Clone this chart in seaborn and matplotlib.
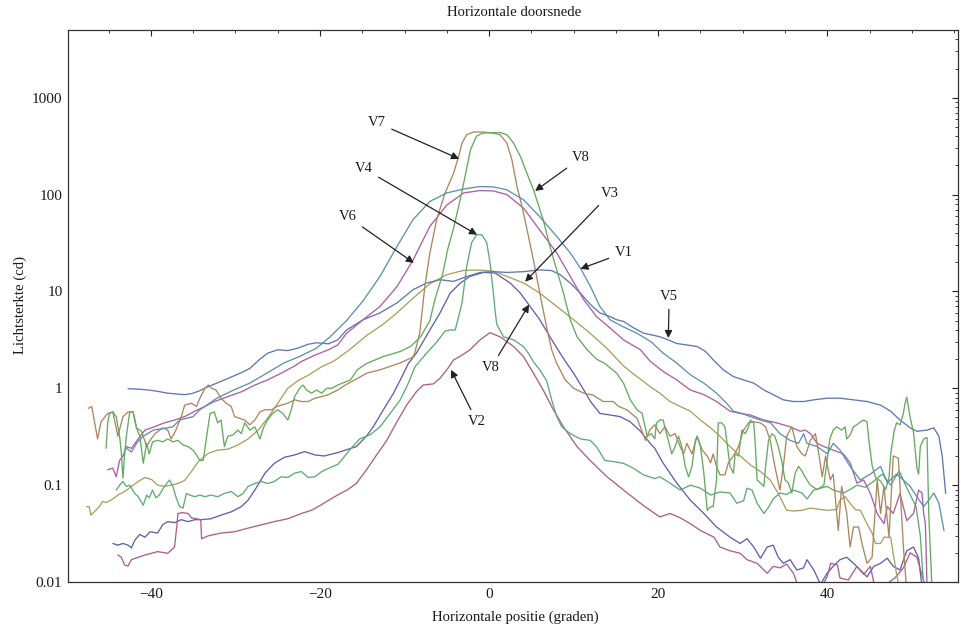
import matplotlib
matplotlib.use("Agg")
import matplotlib.pyplot as plt
import numpy as np
import pandas as pd
import seaborn as sns
from matplotlib.ticker import FixedLocator, NullFormatter

# ---------------- data ----------------
# V1 (teal)
v1_x = [-42.9, -42.3, -41.7, -40.9, -39.7, -38.1, -37.4, -36.6, -35.0, -34.2, -32.2, -30.2, -28.3, -26.3,
        -24.3, -22.4, -20.4, -18.8, -16.85, -14.9, -12.9, -10.9, -9.0, -7.0, -5.0, -3.0, -1.1, 0.5, 2.1,
        4.1, 6.0, 8.0, 9.6, 10.8, 12.0, 13.1, 14.3, 15.9, 17.5, 19.2, 20.6, 22.2, 23.8, 25.4, 26.9, 28.1,
        28.9, 29.9, 30.9, 32.1, 33.3, 34.4, 35.6, 36.6, 37.2, 37.6, 38.8, 40.0, 40.7, 41.5, 42.7, 43.9,
        45.1, 46.3, 47.1, 48.2, 49.0, 49.8, 50.6, 51.4, 52.0, 52.6, 53.2, 53.8]
v1_y = [0.24, 0.22, 0.27, 0.32, 0.37, 0.39, 0.40, 0.47, 0.51, 0.60, 0.79, 0.96, 1.13, 1.43,
        1.82, 2.13, 2.6, 3.4, 5.0, 8.0, 14.3, 29, 55, 85, 104, 114, 121, 120, 112,
        88, 59, 37, 25, 17.4, 11.2, 7.0, 5.1, 4.3, 3.7, 3.0, 2.3, 1.82, 1.38, 1.13, 0.89, 0.70,
        0.58, 0.55, 0.51, 0.47, 0.44, 0.34, 0.29, 0.27, 0.34, 0.27, 0.25, 0.21, 0.27, 0.23, 0.156, 0.113,
        0.13, 0.156, 0.106, 0.13, 0.113, 0.097, 0.076, 0.06, 0.07, 0.083, 0.065, 0.034]

# V2 (red-magenta)
v2_x = [-43.9, -43.5, -43.1, -42.7, -42.3, -41.5, -40.7, -39.9, -39.2, -38.0, -37.2, -36.9, -36.8, -36.2,
        -35.6, -35.2, -34.6, -34.1, -34.0, -33.2, -31.7, -30.1, -28.5, -26.9, -25.4, -23.8, -22.2, -21.0,
        -19.8, -18.6, -17.6, -16.8, -15.7, -14.5, -13.3, -12.1, -10.9, -9.75, -8.6, -7.8, -6.6, -5.8, -5.0,
        -4.2, -3.2, -2.25, -1.07, 0.1, 1.3, 2.9, 4.06, 5.25, 6.4, 7.6, 8.8, 10.4, 11.95, 13.9, 15.9, 17.9,
        19.05, 20.2, 21.4, 22.6, 23.8, 25.0, 26.6, 27.3, 28.5, 29.7, 30.5, 31.7, 32.9, 33.6, 34.4, 35.2,
        36.0, 36.4, 37.5, 38.5, 39.5, 40.0, 40.4, 41.2, 41.5, 42.5, 43.5, 44.3, 45.1, 45.6, 47.0, 48.0,
        49.0, 49.8, 50.6, 51.4, 51.8]
v2_y = [0.019, 0.018, 0.015, 0.0146, 0.017, 0.018, 0.019, 0.0198, 0.0206, 0.0198, 0.023, 0.040, 0.051, 0.052,
        0.051, 0.046, 0.045, 0.044, 0.028, 0.030, 0.032, 0.033, 0.036, 0.039, 0.042, 0.045, 0.051, 0.055,
        0.063, 0.073, 0.082, 0.089, 0.104, 0.144, 0.205, 0.29, 0.45, 0.67, 0.92, 1.08, 1.11, 1.27, 1.55,
        1.96, 2.2, 2.5, 3.16, 3.75, 3.4, 2.7, 2.13, 1.43, 0.96, 0.60, 0.40, 0.25, 0.18, 0.123, 0.089, 0.065,
        0.055, 0.047, 0.051, 0.046, 0.040, 0.034, 0.029, 0.023, 0.021, 0.0198, 0.017, 0.0156, 0.0123, 0.0145, 0.014, 0.0153,
        0.0123, 0.0098, 0.009, 0.0092, 0.0095, 0.0114, 0.0156, 0.015, 0.011, 0.0105, 0.0145, 0.012, 0.0145, 0.009, 0.0095, 0.011,
        0.014, 0.020, 0.018, 0.0103, 0.008]

# V3 (olive)
v3_x = [-47.6, -47.3, -47.1, -46.7, -46.1, -45.7, -45.3, -44.7, -43.9, -43.1, -42.3, -41.5, -40.7, -39.9,
        -39.2, -38.4, -37.6, -36.8, -36.0, -35.2, -34.4, -33.2, -32.1, -30.9, -29.7, -28.5, -27.3, -26.2,
        -25.4, -24.6, -23.8, -22.6, -21.4, -19.8, -18.4, -16.5, -14.5, -12.5, -10.9, -9.0, -7.0, -5.0, -3.0,
        -1.0, 0.5, 2.1, 4.1, 6.0, 8.0, 10.0, 11.95, 13.9, 14.9, 15.9, 17.1, 18.3, 19.05, 20.2, 21.4, 22.6,
        23.8, 25.0, 26.2, 27.3, 28.5, 29.7, 30.9, 32.1, 33.25, 34.2, 35.2, 36.0, 37.0, 38.0, 39.2, 40.0,
        41.1, 41.5, 42.1, 42.7, 43.3, 43.9, 44.7, 45.3, 45.7, 46.3, 46.7, 47.5, 47.8, 48.2, 48.6]
v3_y = [0.06, 0.06, 0.049, 0.053, 0.06, 0.068, 0.066, 0.070, 0.079, 0.086, 0.097, 0.109, 0.12, 0.114,
        0.10, 0.097, 0.10, 0.104, 0.112, 0.138, 0.175, 0.213, 0.23, 0.235, 0.26, 0.30, 0.37, 0.49,
        0.62, 0.79, 1.0, 1.2, 1.36, 1.67, 1.9, 2.5, 3.5, 4.6, 6.0, 8.5, 12.0, 14.9, 16.5,
        16.6, 16.2, 14.3, 12.2, 9.6, 7.0, 5.1, 3.7, 2.6, 2.1, 1.7, 1.4, 1.17, 1.04, 0.89, 0.73, 0.65,
        0.58, 0.47, 0.39, 0.32, 0.25, 0.20, 0.162, 0.138, 0.113, 0.082, 0.055, 0.054, 0.055, 0.058, 0.056, 0.055,
        0.056, 0.070, 0.076, 0.065, 0.056, 0.055, 0.040, 0.032, 0.025, 0.025, 0.029, 0.029, 0.0196, 0.012, 0.008]

# V4 (green, narrow spike)
v4_x = [-44.1, -43.7, -43.3, -42.9, -42.5, -41.9, -41.5, -40.9, -40.5, -40.2, -39.8, -39.4, -39.0, -38.4,
        -37.8, -37.4, -37.0, -36.6, -36.2, -35.8, -35.4, -34.8, -34.2, -33.6, -32.9, -32.1, -31.3, -30.5,
        -29.7, -29.1, -28.5, -27.7, -26.9, -26.2, -25.4, -24.6, -23.8, -23.0, -22.2, -21.4, -20.6, -19.8,
        -19.0, -17.9, -17.6, -16.5, -15.3, -14.1, -12.9, -11.7, -10.5, -9.55, -8.76, -7.4, -6.2, -5.2, -4.6,
        -4.0, -3.2, -2.65, -2.06, -1.46, -0.87, -0.28, 0.12, 0.51, 0.7, 0.9, 1.7, 2.9, 4.06, 4.65, 5.3, 6.0,
        6.8, 7.4, 8.0, 8.6, 9.6, 10.8, 11.95, 12.7, 13.7, 14.7, 15.9, 17.1, 18.3, 19.6, 20.2, 21.4, 22.6,
        23.8, 25.0, 26.2, 27.3, 28.5, 29.3, 30.1, 30.5, 31.1, 31.7, 32.5, 33.05, 33.6, 34.4, 35.2, 36.0,
        37.0, 37.6, 38.4, 39.2, 40.0, 40.7, 41.9, 42.7, 43.5, 44.5, 45.5, 46.5, 47.5, 48.5, 49.5, 50.5,
        51.0, 51.3, 51.5]
v4_y = [0.089, 0.10, 0.109, 0.097, 0.10, 0.082, 0.076, 0.062, 0.079, 0.074, 0.089, 0.074, 0.079, 0.097,
        0.113, 0.097, 0.074, 0.06, 0.058, 0.082, 0.079, 0.076, 0.079, 0.076, 0.079, 0.076, 0.082, 0.086,
        0.076, 0.082, 0.097, 0.104, 0.109, 0.104, 0.109, 0.122, 0.12, 0.133, 0.138, 0.12, 0.122, 0.138,
        0.149, 0.164, 0.175, 0.23, 0.30, 0.33, 0.40, 0.55, 0.76, 1.13, 1.67, 2.3, 3.0, 3.9, 4.0,
        4.0, 7.6, 18, 32, 38.5, 38.5, 32, 19.6, 9.6, 6.5, 4.6, 3.4, 3.16, 2.7, 2.3, 1.85, 1.55,
        1.2, 0.76, 0.51, 0.40, 0.34, 0.30, 0.29, 0.25, 0.18, 0.175, 0.168, 0.149, 0.127, 0.117, 0.122, 0.105, 0.089,
        0.10, 0.093, 0.079, 0.085, 0.083, 0.065, 0.069, 0.093, 0.089, 0.065, 0.051, 0.059, 0.072, 0.083, 0.080, 0.089,
        0.083, 0.072, 0.089, 0.093, 0.097, 0.089, 0.083, 0.09, 0.10, 0.095, 0.11, 0.13, 0.10, 0.14, 0.09, 0.06,
        0.03, 0.012, 0.008]

# V5 (steel blue)
v5_x = [-42.7, -41.5, -40.3, -39.2, -38.0, -36.8, -36.0, -35.2, -34.4, -33.2, -32.1, -30.9, -29.3, -28.3,
        -27.1, -26.2, -25.0, -23.8, -22.6, -21.4, -20.4, -19.0, -17.9, -16.85, -14.9, -12.9, -10.9, -9.0,
        -7.4, -5.8, -4.2, -2.6, -1.07, 0.5, 2.1, 4.1, 6.0, 7.4, 8.4, 9.6, 10.8, 12.0, 13.1, 14.3, 15.1,
        15.9, 17.1, 18.3, 19.6, 20.2, 21.2, 22.2, 23.4, 24.6, 25.6, 26.5, 27.7, 28.9, 30.1, 31.3, 32.5,
        33.6, 34.8, 36.0, 37.2, 38.4, 40.0, 41.5, 43.1, 44.7, 46.3, 47.5, 48.6, 49.8, 50.6, 51.8, 52.6,
        53.2, 53.6, 54.0]
v5_y = [0.99, 0.98, 0.96, 0.93, 0.89, 0.87, 0.86, 0.88, 0.93, 1.04, 1.14, 1.26, 1.45, 1.6,
        2.0, 2.3, 2.5, 2.45, 2.6, 2.85, 2.95, 2.88, 3.16, 4.0, 5.1, 6.0, 7.6, 10.4,
        12.2, 13.2, 12.7, 14.3, 15.7, 16.0, 15.7, 16.0, 16.7, 16.4, 14.9, 12.2, 9.6, 7.3, 6.0, 5.5, 5.1,
        4.9, 4.2, 3.7, 3.5, 3.4, 3.16, 2.9, 2.8, 2.7, 2.4, 1.97, 1.55, 1.32, 1.22, 1.13, 0.96,
        0.86, 0.76, 0.73, 0.73, 0.76, 0.79, 0.79, 0.76, 0.73, 0.67, 0.58, 0.47, 0.39, 0.36, 0.37, 0.39,
        0.32, 0.197, 0.082]

# V6 (purple)
v6_x = [-45.1, -44.5, -44.1, -43.7, -43.3, -42.9, -42.3, -41.5, -40.7, -39.6, -38.4, -37.2, -36.0, -34.8,
        -33.6, -32.5, -30.9, -29.3, -27.7, -26.2, -24.6, -23.0, -22.2, -20.6, -19.0, -17.9, -16.85, -14.9,
        -12.9, -10.9, -9.0, -7.0, -5.0, -3.0, -1.07, 0.5, 2.1, 4.1, 6.0, 8.0, 9.6, 11.2, 12.7, 14.3, 15.9,
        17.9, 19.05, 20.6, 22.2, 23.8, 25.4, 26.9, 28.5, 29.7, 30.9, 32.5, 34.0, 35.6, 36.8, 37.4, 38.0,
        38.8, 39.6, 40.7, 41.9, 42.7, 43.5, 44.3, 45.1, 45.9, 46.7, 47.1, 47.8, 48.6, 49.4, 50.2, 50.8,
        51.2, 51.4, 51.6, 51.8]
v6_y = [0.144, 0.15, 0.122, 0.18, 0.20, 0.25, 0.24, 0.30, 0.37, 0.40, 0.44, 0.47, 0.51, 0.58,
        0.65, 0.73, 0.82, 0.92, 1.08, 1.22, 1.43, 1.7, 1.89, 2.2, 2.5, 2.8, 3.7, 5.1,
        7.0, 11.2, 21, 47, 78, 104, 110, 109, 100, 72, 43, 25, 14.3, 8.2, 5.5, 4.2, 3.16,
        2.5, 1.9, 1.49, 1.22, 0.96, 0.86, 0.73, 0.58, 0.55, 0.53, 0.47, 0.44, 0.40, 0.36, 0.37, 0.34,
        0.27, 0.25, 0.23, 0.21, 0.17, 0.105, 0.113, 0.082, 0.051, 0.040, 0.06, 0.051, 0.082, 0.043, 0.051, 0.089,
        0.083, 0.051, 0.04, 0.009]

# V7 (brown)
v7_x = [-47.4, -47.0, -46.7, -46.3, -45.9, -45.1, -44.5, -43.9, -43.3, -42.7, -42.1, -41.7, -41.1, -40.5,
        -40.1, -39.5, -38.6, -38.0, -37.6, -37.1, -36.4, -36.0, -35.2, -34.6, -34.2, -33.6, -33.2, -32.8,
        -32.3, -31.7, -31.1, -30.5, -30.1, -29.5, -28.9, -28.3, -27.7, -27.1, -26.5, -25.7, -25.1, -24.6,
        -23.8, -23.0, -22.2, -21.4, -20.6, -19.8, -19.0, -17.9, -17.0, -14.4, -12.9, -10.5, -9.0, -8.8,
        -8.2, -7.6, -7.0, -6.2, -5.2, -4.2, -3.6, -3.2, -2.65, -1.86, -0.67, 0.5, 1.3, 2.1, 2.7, 3.3, 3.9,
        4.5, 5.25, 6.0, 6.8, 7.4, 8.0, 8.4, 9.0, 10.0, 11.2, 12.3, 13.5, 14.7, 15.3, 16.3, 17.5, 18.5,
        19.0, 19.6, 20.2, 20.8, 21.4, 22.0, 22.6, 23.0, 23.4, 24.0, 24.6, 25.2, 25.8, 26.2, 26.5, 26.9,
        27.3, 27.9, 28.3, 28.9, 29.5, 30.1, 30.7, 31.3, 32.1, 32.7, 33.25, 33.8, 34.4, 34.8, 35.2, 35.8,
        36.4, 37.0, 37.4, 38.0, 38.6, 39.0, 39.4, 39.8, 40.35, 40.7, 41.3, 41.7, 42.3, 42.7, 43.1, 43.7,
        44.1, 44.7, 45.3, 45.9, 46.3, 46.7, 47.3, 47.8, 48.4, 48.6, 49.0, 49.4]
v7_y = [0.62, 0.65, 0.47, 0.30, 0.45, 0.55, 0.57, 0.32, 0.51, 0.57, 0.57, 0.39, 0.36, 0.25,
        0.29, 0.34, 0.39, 0.37, 0.30, 0.36, 0.51, 0.67, 0.70, 0.65, 0.79, 1.0, 1.08, 1.0,
        0.96, 0.79, 0.70, 0.65, 0.51, 0.49, 0.47, 0.42, 0.47, 0.57, 0.60, 0.60, 0.65, 0.67,
        0.70, 0.76, 0.73, 0.73, 0.79, 0.82, 0.86, 0.96, 1.08, 1.44, 1.55, 1.83, 2.1, 2.3,
        3.7, 11.2, 25, 55, 104, 166, 248, 340, 415, 442, 442, 430, 415, 340, 229, 121, 75,
        43, 21, 9.6, 4.3, 2.5, 1.8, 1.55, 1.22, 1.0, 0.89, 0.85, 0.73, 0.73, 0.65, 0.60, 0.49, 0.29,
        0.37, 0.42, 0.34, 0.40, 0.32, 0.34, 0.25, 0.21, 0.27, 0.21, 0.32, 0.23, 0.20, 0.17, 0.21, 0.156,
        0.128, 0.128, 0.17, 0.20, 0.25, 0.37, 0.44, 0.45, 0.44, 0.40, 0.29, 0.156, 0.089, 0.156, 0.32, 0.40,
        0.25, 0.21, 0.20, 0.29, 0.34, 0.21, 0.122, 0.20, 0.113, 0.13, 0.034, 0.097, 0.051, 0.023, 0.037, 0.037,
        0.025, 0.0156, 0.018, 0.113, 0.051, 0.097, 0.029, 0.20, 0.19, 0.097, 0.023, 0.008]

# V8 (green, wide top)
v8_x = [-45.3, -45.1, -44.9, -44.5, -44.1, -43.7, -43.5, -43.3, -43.1, -42.9, -42.5, -42.1, -41.7, -41.3,
        -40.9, -40.5, -40.2, -39.8, -39.2, -38.6, -38.0, -37.4, -36.8, -36.2, -35.6, -35.0, -34.6, -34.2,
        -33.8, -33.4, -33.0, -32.5, -32.1, -31.7, -31.3, -30.9, -30.3, -29.7, -29.3, -28.9, -28.3, -27.7,
        -27.1, -26.7, -26.2, -25.6, -25.0, -24.4, -23.8, -23.4, -23.0, -22.4, -22.0, -21.6, -21.0, -20.4,
        -19.8, -19.2, -18.6, -17.9, -16.4, -15.6, -14.5, -12.5, -10.5, -9.3, -8.1, -7.0, -6.4, -5.5, -4.9,
        -4.2, -3.4, -2.8, -2.2, -1.5, -0.8, 0.1, 1.3, 2.1, 2.9, 3.7, 4.46, 5.25, 6.4, 7.2, 8.0, 8.8, 9.6,
        10.4, 11.6, 12.7, 13.7, 15.1, 15.9, 16.7, 17.5, 18.1, 18.7, 19.2, 19.6, 19.8, 20.2, 20.6, 20.8,
        21.2, 21.6, 22.0, 22.4, 22.8, 23.2, 23.6, 24.0, 24.4, 24.6, 25.0, 25.4, 25.8, 26.2, 26.5, 26.9,
        27.1, 27.5, 27.9, 28.1, 28.5, 28.9, 29.1, 29.5, 29.9, 30.3, 30.7, 30.9, 31.3, 31.5, 31.7, 32.1,
        32.5, 32.7, 33.05, 33.45, 33.8, 34.2, 34.6, 35.0, 35.4, 35.8, 36.2, 36.6, 37.0, 37.4, 38.0, 38.8,
        39.6, 40.3, 40.7, 41.1, 41.7, 42.1, 42.3, 42.7, 43.1, 43.5, 43.9, 44.3, 44.7, 44.9, 45.3, 45.7,
        46.3, 46.9, 47.3, 47.5, 47.9, 48.2, 48.6, 49.0, 49.2, 49.4, 49.6, 49.8, 50.2, 50.6, 50.8, 51.0,
        51.4, 51.8, 52.0, 52.2, 52.4]
v8_y = [0.24, 0.44, 0.55, 0.57, 0.51, 0.32, 0.22, 0.118, 0.21, 0.32, 0.57, 0.57, 0.39, 0.32,
        0.168, 0.27, 0.21, 0.28, 0.29, 0.28, 0.30, 0.28, 0.29, 0.26, 0.25, 0.23, 0.205, 0.18,
        0.18, 0.32, 0.55, 0.57, 0.44, 0.47, 0.25, 0.32, 0.33, 0.37, 0.34, 0.44, 0.37, 0.40,
        0.30, 0.39, 0.47, 0.55, 0.60, 0.55, 0.47, 0.60, 0.82, 1.0, 1.08, 0.96, 0.89, 0.96,
        0.89, 1.0, 1.0, 1.08, 1.22, 1.55, 1.8, 2.13, 2.4, 2.7, 3.4, 5.0, 8.3, 15, 27,
        45, 90, 160, 290, 400, 430, 435, 437, 415, 340, 248, 167, 112, 55, 29, 16.7, 9.6, 5.1,
        3.4, 2.5, 2.0, 1.8, 1.43, 1.13, 0.76, 0.60, 0.55, 0.32, 0.34, 0.30, 0.44, 0.47, 0.47, 0.39,
        0.29, 0.21, 0.25, 0.32, 0.25, 0.156, 0.122, 0.156, 0.29, 0.32, 0.25, 0.133, 0.055, 0.06, 0.06, 0.113,
        0.44, 0.44, 0.40, 0.29, 0.156, 0.133, 0.21, 0.20, 0.37, 0.34, 0.40, 0.47, 0.44, 0.25, 0.113, 0.105,
        0.097, 0.156, 0.29, 0.34, 0.32, 0.25, 0.18, 0.113, 0.105, 0.083, 0.133, 0.156, 0.14, 0.12, 0.10, 0.09,
        0.10, 0.30, 0.37, 0.40, 0.37, 0.40, 0.30, 0.33, 0.40, 0.42, 0.45, 0.47, 0.45, 0.30, 0.16, 0.12,
        0.11, 0.09, 0.12, 0.21, 0.36, 0.44, 0.42, 0.55, 0.70, 0.81, 0.64, 0.50, 0.35, 0.15, 0.13, 0.25,
        0.30, 0.31, 0.05, 0.02, 0.008]

# second curve labelled "V8" (indigo)
v8b_x = [-44.5, -43.9, -43.3, -42.7, -42.3, -41.9, -41.3, -40.7, -40.1, -39.2, -38.6, -38.0, -37.2, -36.4,
         -35.6, -34.8, -34.0, -32.9, -31.7, -30.5, -29.3, -28.5, -27.7, -26.5, -25.4, -24.2, -23.0, -21.8,
         -20.6, -19.5, -17.9, -17.2, -15.7, -14.5, -13.7, -12.5, -11.3, -10.3, -9.55, -8.6, -7.0, -5.8,
         -4.6, -3.4, -2.25, -0.67, 0.7, 1.3, 2.5, 3.7, 4.85, 6.0, 7.2, 8.4, 9.2, 10.0, 11.2, 12.0, 13.1,
         14.3, 15.5, 16.7, 17.9, 19.05, 19.6, 20.6, 22.2, 23.8, 25.4, 26.9, 28.5, 29.7, 30.5, 31.3, 32.1,
         32.9, 33.6, 34.2, 34.8, 35.6, 36.4, 37.2, 37.6, 38.4, 39.2, 40.0, 40.7, 41.5, 42.3, 43.1, 43.9,
         44.7, 45.5, 46.3, 47.1, 47.8, 48.6, 49.4, 50.2, 50.8, 51.2]
v8b_y = [0.025, 0.024, 0.025, 0.024, 0.0225, 0.027, 0.031, 0.029, 0.033, 0.032, 0.039, 0.042, 0.041, 0.044,
         0.042, 0.044, 0.044, 0.045, 0.049, 0.053, 0.060, 0.070, 0.089, 0.133, 0.168, 0.194, 0.205, 0.222,
         0.205, 0.20, 0.217, 0.227, 0.25, 0.32, 0.40, 0.60, 0.89, 1.32, 1.8, 2.3, 4.0, 6.0,
         9.6, 12.2, 14.3, 15.7, 15.5, 14.3, 12.2, 9.6, 7.0, 5.1, 3.4, 2.3, 1.8, 1.43, 0.96, 0.73, 0.55,
         0.53, 0.51, 0.45, 0.36, 0.27, 0.24, 0.168, 0.105, 0.070, 0.051, 0.037, 0.029, 0.025, 0.028, 0.023, 0.0176,
         0.023, 0.024, 0.018, 0.0156, 0.017, 0.0133, 0.014, 0.017, 0.0133, 0.0095, 0.0124, 0.0145, 0.017, 0.018, 0.0156, 0.0133,
         0.0113, 0.0145, 0.0156, 0.0176, 0.0145, 0.0133, 0.021, 0.023, 0.0176, 0.009]

series = {"V8b": (v8b_x, v8b_y), "V2": (v2_x, v2_y), "V3": (v3_x, v3_y), "V4": (v4_x, v4_y),
          "V5": (v5_x, v5_y), "V6": (v6_x, v6_y), "V7": (v7_x, v7_y), "V8": (v8_x, v8_y),
          "V1": (v1_x, v1_y)}

base_colors = {"V8b": (0.247, 0.24, 0.6), "V2": (0.6, 0.24, 0.443), "V3": (0.6, 0.547, 0.24),
               "V4": (0.24, 0.6, 0.337), "V5": (0.24, 0.353, 0.6), "V6": (0.6, 0.24, 0.563),
               "V7": (0.6, 0.427, 0.24), "V8": (0.263, 0.6, 0.24), "V1": (0.24, 0.474, 0.6)}
# thin antialiased lines in the reference look lighter: mix a little white in
colors = {k: tuple(0.82 * c + 0.18 for c in v) for k, v in base_colors.items()}

# annotations: label, arrow tip (x, y), text position (x, y)
ann_labels = ["V7", "V4", "V6", "V8", "V3", "V1", "V5", "V8", "V2"]
ann_tips = [(-3.55, 234), (-1.42, 38.5), (-8.9, 19.7), (5.44, 109), (4.26, 12.6), (10.8, 17.1),
            (21.2, 3.3), (4.73, 7.3), (-4.5, 1.55)]
ann_texts = [(-13.25, 552), (-14.8, 185), (-16.7, 59), (10.9, 240), (14.3, 102), (15.9, 25),
             (21.3, 8.8), (0.24, 1.63), (-1.42, 0.45)]

x_ticks = [-40, -20, 0, 20, 40]
y_ticks = [0.01, 0.1, 1, 10, 100, 1000]
y_ticklabels = ["0.01", "0.1", "1", "10", "100", "1000"]

# ---------------- plot ----------------
sns.set_theme(style="white")
plt.rcParams['font.family'] = ['Liberation Serif', 'DejaVu Serif']

df = pd.concat([pd.DataFrame({"x": xs, "y": ys, "series": name})
                for name, (xs, ys) in series.items()], ignore_index=True)

W, H = 961, 632
fig = plt.figure(figsize=(W / 100, H / 100), dpi=100)
ax = fig.add_axes([68 / W, 1 - 582 / H, (957.5 - 68) / W, (582 - 30) / H])

sns.lineplot(data=df, x="x", y="y", hue="series", hue_order=list(series.keys()),
             palette=colors, estimator=None, sort=False, legend=False, lw=0.95, ax=ax)

ax.set_yscale("log")
ax.set_xlim(-49.8, 55.4)
ax.set_ylim(0.01, 5000)

ax.xaxis.set_major_locator(FixedLocator(x_ticks))
ax.xaxis.set_minor_locator(FixedLocator(np.arange(-45, 56, 5)))
ax.set_xticklabels([f"{t}".replace("-", "\u2212") for t in x_ticks])
minor_y = [m * 10.0 ** e for e in range(-2, 4) for m in range(2, 10)]
ax.yaxis.set_major_locator(FixedLocator(y_ticks))
ax.yaxis.set_minor_locator(FixedLocator(minor_y))
ax.yaxis.set_minor_formatter(NullFormatter())
ax.set_yticklabels(y_ticklabels)

ax.tick_params(which="both", direction="in", top=True, right=True, colors="#222222",
               labelsize=11, labelcolor="#1a1a1a")
ax.tick_params(which="major", length=4.5, width=0.8, pad=4)
ax.tick_params(which="minor", length=2.5, width=0.6)
for s in ax.spines.values():
    s.set_color("#333333")
    s.set_linewidth(0.9)
ax.set_xlabel("")
ax.set_ylabel("")

fig.text(514 / W, 1 - 13 / H, "Horizontale doorsnede", ha="center", va="center",
         fontsize=10.6, color="#1a1a1a")
fig.text(515 / W, 1 - 617 / H, "Horizontale positie (graden)", ha="center", va="center",
         fontsize=10.6, color="#1a1a1a")
fig.text(20 / W, 1 - 305 / H, "Lichtsterkte (cd)", ha="center", va="center", rotation=90,
         fontsize=10.6, color="#1a1a1a")

for lab, tip, txt in zip(ann_labels, ann_tips, ann_texts):
    ax.annotate(lab, xy=tip, xytext=txt, textcoords="data", ha="center", va="center",
                fontsize=10.5, color="#1a1a1a",
                arrowprops=dict(arrowstyle="-|>", color="#222222", lw=0.9,
                                mutation_scale=11, shrinkA=2, shrinkB=0))

fig.savefig("out.png", dpi=100, facecolor="white")
